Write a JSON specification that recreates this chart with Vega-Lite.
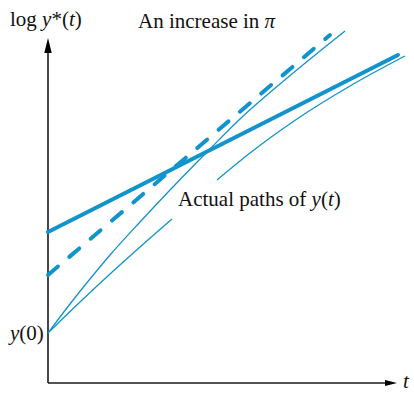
{
  "$schema": "https://vega.github.io/schema/vega-lite/v6.json",
  "width": 414,
  "height": 393,
  "autosize": {"type": "none"},
  "padding": 0,
  "config": {"view": {"stroke": null}},
  "datasets": {
    "paths": [
      {"series": "solid", "seg": "a", "t": 0, "v": 151},
      {"series": "solid", "seg": "a", "t": 350, "v": 328},
      {"series": "dashed", "seg": "a", "t": 0, "v": 108},
      {"series": "dashed", "seg": "a", "t": 282, "v": 348},
      {"series": "upper", "seg": "a", "t": 0, "v": 50},
      {"series": "upper", "seg": "a", "t": 22, "v": 79},
      {"series": "upper", "seg": "a", "t": 42, "v": 104},
      {"series": "upper", "seg": "a", "t": 62, "v": 128},
      {"series": "upper", "seg": "a", "t": 92, "v": 161},
      {"series": "upper", "seg": "a", "t": 122, "v": 193},
      {"series": "upper", "seg": "a", "t": 160, "v": 232},
      {"series": "upper", "seg": "a", "t": 192, "v": 264},
      {"series": "upper", "seg": "a", "t": 232, "v": 299},
      {"series": "upper", "seg": "a", "t": 297, "v": 352},
      {"series": "lower", "seg": "a", "t": 0, "v": 50},
      {"series": "lower", "seg": "a", "t": 32, "v": 81},
      {"series": "lower", "seg": "a", "t": 62, "v": 109},
      {"series": "lower", "seg": "a", "t": 92, "v": 136},
      {"series": "lower", "seg": "a", "t": 124, "v": 164},
      {"series": "lower", "seg": "b", "t": 169, "v": 203},
      {"series": "lower", "seg": "b", "t": 202, "v": 230},
      {"series": "lower", "seg": "b", "t": 249, "v": 264},
      {"series": "lower", "seg": "b", "t": 302, "v": 297},
      {"series": "lower", "seg": "b", "t": 357, "v": 327}
    ],
    "axes": [
      {"axis": "v", "t": 0, "v": 0},
      {"axis": "v", "t": 0, "v": 334},
      {"axis": "h", "t": 0, "v": 0},
      {"axis": "h", "t": 340, "v": 0}
    ],
    "regular": [
      {"s": "log ", "t": -38, "v": 357},
      {"s": "*(", "t": 3.4, "v": 357},
      {"s": ")", "t": 26.7, "v": 357},
      {"s": "An increase in ", "t": 90, "v": 355},
      {"s": "Actual paths of ", "t": 130, "v": 177},
      {"s": "(", "t": 272.9, "v": 177},
      {"s": ")", "t": 285.7, "v": 177},
      {"s": "(0)", "t": -28.7, "v": 43}
    ],
    "italic": [
      {"s": "y", "t": -5.9, "v": 357},
      {"s": "t", "t": 20.9, "v": 357},
      {"s": "π", "t": 216.5, "v": 355},
      {"s": "y", "t": 263.6, "v": 177},
      {"s": "t", "t": 279.9, "v": 177},
      {"s": "y", "t": -38, "v": 43},
      {"s": "t", "t": 355, "v": -5}
    ]
  },
  "encoding": {
    "x": {"field": "t", "type": "quantitative", "scale": {"domain": [-48, 366], "nice": false, "zero": false}, "axis": null},
    "y": {"field": "v", "type": "quantitative", "scale": {"domain": [-10, 383], "nice": false, "zero": false}, "axis": null}
  },
  "layer": [
    {
      "data": {"name": "axes"},
      "mark": {"type": "line", "color": "#1a1a1a", "strokeWidth": 1.6},
      "encoding": {"detail": {"field": "axis"}, "order": {"field": "v"}}
    },
    {
      "data": {"values": [{"t": 0, "v": 337.5}]},
      "mark": {"type": "point", "shape": "M0,-1L0.5,1L-0.5,1Z", "size": 225, "filled": true, "color": "#000", "opacity": 1}
    },
    {
      "data": {"values": [{"t": 343, "v": 0}]},
      "mark": {"type": "point", "shape": "M1,0L-1,-0.5L-1,0.5Z", "size": 144, "filled": true, "color": "#000", "opacity": 1}
    },
    {
      "data": {"name": "paths"},
      "transform": [{"filter": "datum.series === 'solid'"}],
      "mark": {"type": "line", "color": "#1193cc", "strokeWidth": 4, "strokeCap": "round"},
      "encoding": {}
    },
    {
      "data": {"name": "paths"},
      "transform": [{"filter": "datum.series === 'dashed'"}],
      "mark": {"type": "line", "color": "#1193cc", "strokeWidth": 4, "strokeCap": "round", "strokeDash": [13, 15]},
      "encoding": {}
    },
    {
      "data": {"name": "paths"},
      "transform": [{"filter": "datum.series === 'upper' || datum.series === 'lower'"}],
      "mark": {"type": "line", "color": "#1193cc", "strokeWidth": 1.3, "interpolate": "monotone"},
      "encoding": {"detail": [{"field": "series"}, {"field": "seg"}]}
    },
    {
      "data": {"name": "regular"},
      "mark": {"type": "text", "font": "Liberation Serif", "fontSize": 21, "align": "left", "baseline": "alphabetic", "color": "#111"},
      "encoding": {"text": {"field": "s"}}
    },
    {
      "data": {"name": "italic"},
      "mark": {"type": "text", "font": "Liberation Serif", "fontSize": 21, "fontStyle": "italic", "align": "left", "baseline": "alphabetic", "color": "#111"},
      "encoding": {"text": {"field": "s"}}
    }
  ]
}
